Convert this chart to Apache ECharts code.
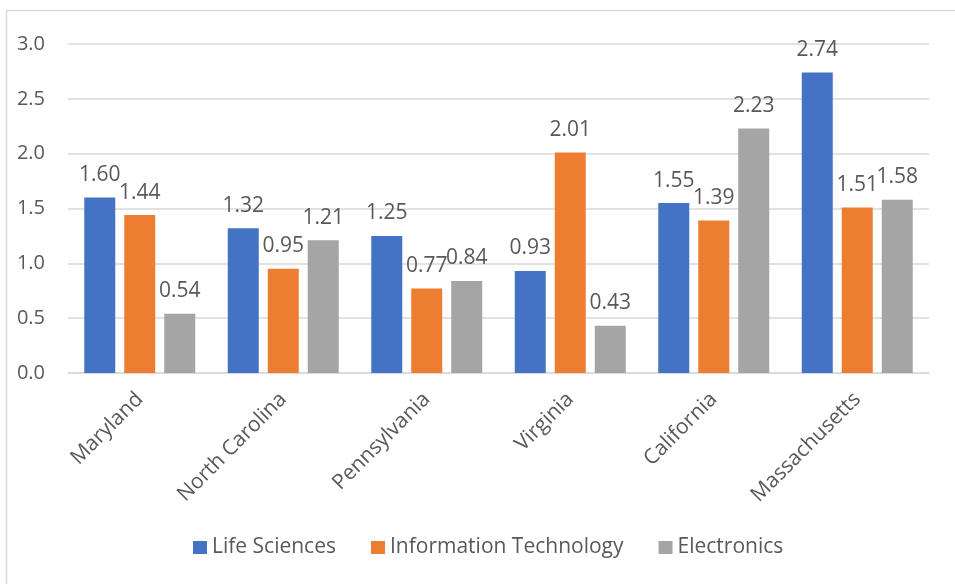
<!DOCTYPE html>
<html>
<head>
<meta charset="utf-8">
<script src="https://cdn.jsdelivr.net/npm/echarts@6/dist/echarts.min.js"></script>
<style>
  html, body { margin: 0; padding: 0; background: #fff; }
  #chart { width: 955px; height: 584px; }
</style>
</head>
<body>
<div id="chart"></div>
<script>
// Location quotients by industry cluster for each state
const states = ['Maryland', 'North Carolina', 'Pennsylvania', 'Virginia', 'California', 'Massachusetts'];
const lifeSciences = [1.60, 1.32, 1.25, 0.93, 1.55, 2.74];
const infoTech = [1.44, 0.95, 0.77, 2.01, 1.39, 1.51];
const electronics = [0.54, 1.21, 0.84, 0.43, 2.23, 1.58];
const yTicks = [0, 0.5, 1.0, 1.5, 2.0, 2.5, 3.0];

const textColor = '#595959';
const fontFamily = '"Open Sans", "Noto Sans", sans-serif';

function barSeries(name, data, color) {
  return {
    name: name,
    type: 'bar',
    data: data,
    barWidth: 31,
    barGap: '29%',
    itemStyle: { color: color },
    label: {
      show: true,
      position: 'top',
      distance: 12,
      color: textColor,
      fontFamily: fontFamily,
      fontSize: 21,
      formatter: p => p.value.toFixed(2)
    }
  };
}

const chart = echarts.init(document.getElementById('chart'));
chart.setOption({
  animation: false,
  backgroundColor: '#fff',
  textStyle: { fontFamily: fontFamily },
  graphic: [{
    type: 'rect',
    shape: { x: 6.5, y: 10.5, width: 960, height: 600 },
    style: { fill: 'none', stroke: '#d9d9d9', lineWidth: 1.5 },
    silent: true
  }],
  grid: { left: 68, right: 26, top: 44, bottom: 211, containLabel: false },
  legend: {
    top: 537,
    left: 193,
    padding: 0,
    itemWidth: 14,
    itemHeight: 13,
    itemGap: 35,
    icon: 'rect',
    textStyle: { color: textColor, fontSize: 21, fontFamily: fontFamily },
    data: ['Life Sciences', 'Information Technology', 'Electronics']
  },
  xAxis: {
    type: 'category',
    data: states,
    axisLine: { lineStyle: { color: '#d9d9d9', width: 1.5 } },
    axisTick: { show: false },
    axisLabel: {
      rotate: 45,
      interval: 0,
      margin: 23,
      color: textColor,
      fontSize: 21,
      fontFamily: fontFamily
    }
  },
  yAxis: {
    type: 'value',
    min: yTicks[0],
    max: yTicks[yTicks.length - 1],
    interval: 0.5,
    axisLine: { show: false },
    axisTick: { show: false },
    splitLine: { lineStyle: { color: '#d9d9d9', width: 1.5 } },
    axisLabel: {
      margin: 23,
      color: textColor,
      fontSize: 20,
      fontFamily: fontFamily,
      formatter: v => v.toFixed(1)
    }
  },
  series: [
    barSeries('Life Sciences', lifeSciences, '#4472c4'),
    barSeries('Information Technology', infoTech, '#ed7d31'),
    barSeries('Electronics', electronics, '#a5a5a5')
  ]
});
</script>
</body>
</html>
